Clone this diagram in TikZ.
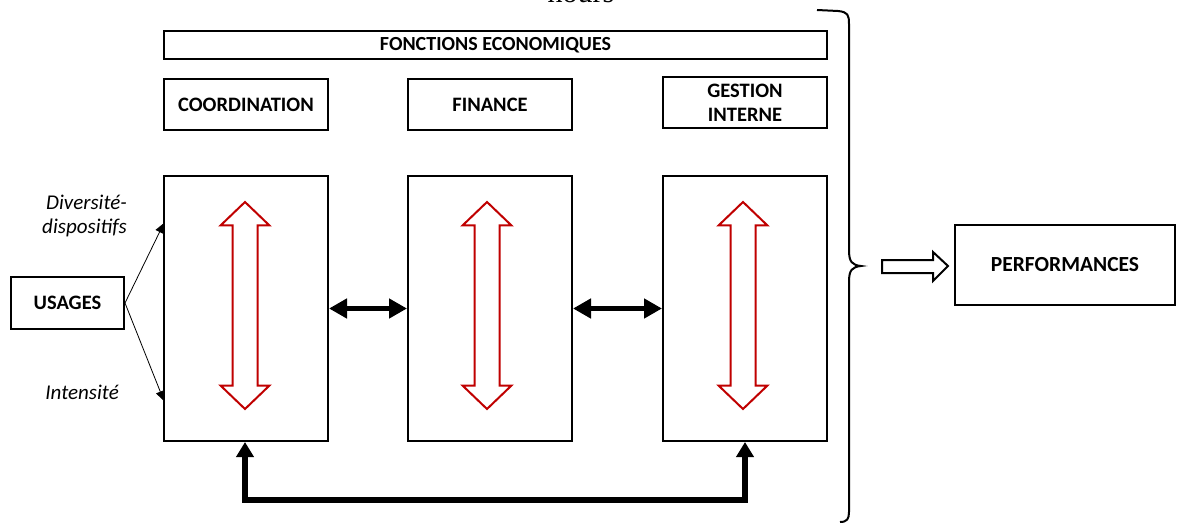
\documentclass[tikz,border=0pt]{standalone}
\usepackage{fontspec}
\setmainfont{Carlito}
\newfontfamily\serifcut{Liberation Serif}
\usetikzlibrary{arrows.meta}
\definecolor{arrred}{HTML}{C00000}
\tikzset{
  box/.style={draw=black, line width=2pt, rectangle, inner sep=0pt, font=\fontsize{20.5}{24}\selectfont\bfseries, align=center},
  lbl/.style={font=\fontsize{21}{24.5}\selectfont\itshape, align=right, inner sep=0pt},
  redarr/.style={draw=arrred, line width=2pt, fill=white, line join=miter},
  blkarr/.style={line width=5pt, {Triangle[width=19pt,length=18pt]}-{Triangle[width=19pt,length=18pt]}},
  looparr/.style={line width=6pt, {Triangle[width=17pt,length=15pt]}-{Triangle[width=17pt,length=15pt]}},
  thinarr/.style={line width=0.8pt, -{Triangle[width=9pt,length=10pt]}},
  hollow/.style={draw=black, line width=2pt, fill=white, line join=miter},
  brace/.style={line width=2pt},
  dblarrow/.pic={
    \draw[redarr] (0,-103.5) -- (24.5,-80) -- (12.5,-80) -- (12.5,80) -- (24.5,80) -- (0,103.5)
      -- (-24.5,80) -- (-12.5,80) -- (-12.5,-80) -- (-24.5,-80) -- cycle;
  }
}
\begin{document}
\begin{tikzpicture}[x=1pt,y=-1pt]
\useasboundingbox (0,0) rectangle (1179,524);
\clip (0,0) rectangle (1179,524);
% cut-off title (cut in the reference too)
\node[anchor=base, inner sep=0pt, font=\serifcut\fontsize{30}{34}\selectfont] (hours) at (581,3) {hours};
% headers
\node[box, minimum width=663pt, minimum height=28pt, font=\fontsize{20}{23}\selectfont\bfseries] (fonc) at (495.5,45) {FONCTIONS ECONOMIQUES};
\node[box, minimum width=164pt, minimum height=51pt] (hcoord) at (246,104.5) {COORDINATION};
\node[box, minimum width=164pt, minimum height=51pt] (hfin) at (490,104.5) {FINANCE};
\node[box, minimum width=164pt, minimum height=51pt] (hgest) at (745,103) {GESTION\\INTERNE};
% big boxes
\node[box, minimum width=164pt, minimum height=265pt] (bcoord) at (246,308.5) {};
\node[box, minimum width=164pt, minimum height=265pt] (bfin) at (490,308.5) {};
\node[box, minimum width=164pt, minimum height=265pt] (bgest) at (745,308.5) {};
% red double arrows
\pic at (245,305.5) {dblarrow};
\pic at (487,305.5) {dblarrow};
\pic at (743,305.5) {dblarrow};
% usages
\node[box, minimum width=113pt, minimum height=52pt] (usages) at (67.5,303) {USAGES};
\coordinate (udiv) at (164,223);
\coordinate (uint) at (164,401);
\draw[thinarr] (usages.east) -- (udiv);
\draw[thinarr] (usages.east) -- (uint);
\node[lbl, anchor=east] (ldiv) at (127,216) {Diversité-\\dispositifs};
\node[lbl, anchor=east] (lint) at (119,392) {Intensité};
% black double arrows
\draw[blkarr] (bcoord.east) -- (bfin.west);
\draw[blkarr] (bfin.east) -- (bgest.west);
% bottom loop
\draw[looparr] (bcoord.south -| 245,0) -- (245,500) -- (745,500) -- (bgest.south -| 745,0);
% brace
\coordinate (btip) at (861,266);
\draw[brace] (817,10) -- (838,11) .. controls (848,12) and (849,15) .. (849,24)
  -- (849,250) .. controls (849,262) and (852,265) .. (btip)
  .. controls (852,267) and (849,270) .. (849,282)
  -- (849,512) .. controls (849,519) and (847,522) .. (840,522);
% performances
\node[box, minimum width=220pt, minimum height=80pt, font=\fontsize{21.5}{25}\selectfont\bfseries] (perf) at (1065,265) {PERFORMANCES};
\draw[hollow] (882,260) -- (933,260) -- (933,252) -- (948,266) -- (933,281) -- (933,273) -- (882,273) -- cycle;
\end{tikzpicture}
\end{document}
